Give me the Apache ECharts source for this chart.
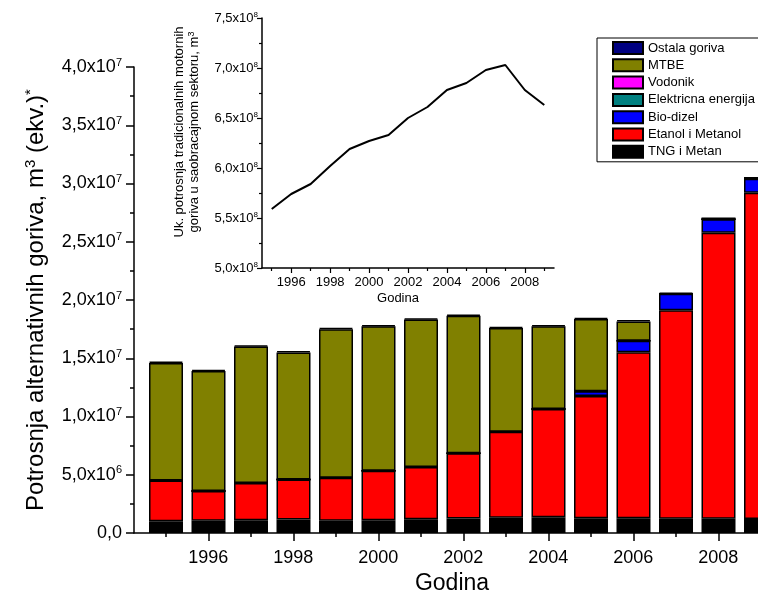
<!DOCTYPE html>
<html>
<head>
<meta charset="utf-8">
<script src="https://cdn.jsdelivr.net/npm/echarts@6/dist/echarts.min.js"></script>
<style>
  html, body { margin: 0; padding: 0; background: #fff; }
  #main { width: 758px; height: 595px; }
</style>
</head>
<body>
<div id="main"></div>
<script>
var chartDom = document.getElementById('main');
var myChart = echarts.init(chartDom);
var option;

// years on both charts
var years = [1995, 1996, 1997, 1998, 1999, 2000, 2001, 2002, 2003, 2004, 2005, 2006, 2007, 2008, 2009];
var labelYears = [1996, 1998, 2000, 2002, 2004, 2006, 2008];
var mainTicks = [1996, 1998, 2000, 2002, 2004, 2006, 2008];
var minorTicks = [1995, 1997, 1999, 2001, 2003, 2005, 2007, 2009];

// stacked bars, m3 (ekv.)
var tngMetan    = [1.0e6, 1.05e6, 1.1e6, 1.15e6, 1.05e6, 1.1e6, 1.17e6, 1.25e6, 1.3e6, 1.35e6, 1.26e6, 1.26e6, 1.23e6, 1.23e6, 1.2e6];
var etanol      = [3.5e6, 2.55e6, 3.2e6, 3.45e6, 3.7e6, 4.25e6, 4.5e6, 5.6e6, 7.4e6, 9.3e6, 10.5e6, 14.25e6, 17.9e6, 24.55e6, 28.0e6];
var bioDizel    = [0, 0, 0, 0, 0, 0, 0, 0, 0, 0, 0.4e6, 1.0e6, 1.4e6, 1.15e6, 1.2e6];
var elektricna  = [0, 0, 0, 0, 0, 0, 0, 0, 0, 0, 0, 0, 0, 0, 0];
var vodonik     = [0, 0, 0, 0, 0, 0, 0, 0, 0, 0, 0, 0, 0, 0, 0];
var mtbe        = [10.1e6, 10.3e6, 11.7e6, 10.9e6, 12.75e6, 12.4e6, 12.65e6, 11.8e6, 8.9e6, 7.1e6, 6.2e6, 1.65e6, 0, 0, 0];
var ostala      = [0.1e6, 0.1e6, 0.1e6, 0.1e6, 0.1e6, 0.1e6, 0.1e6, 0.1e6, 0.1e6, 0.1e6, 0.1e6, 0.1e6, 0.1e6, 0.15e6, 0.15e6];

// inset: total traditional fuel use
var tradicionalna = [5.59e8, 5.74e8, 5.84e8, 6.02e8, 6.19e8, 6.27e8, 6.33e8, 6.5e8, 6.61e8, 6.78e8, 6.85e8, 6.98e8, 7.03e8, 6.78e8, 6.63e8];

var FONT = 'Liberation Sans, Arial, sans-serif';

function pairs(vals) {
    return years.map(function (y, i) { return [y, vals[i]]; });
}

function sciLabel(v) {
    if (v === 0) return '{a|0,0}';
    var e = Math.floor(Math.log10(v) + 1e-9);
    var m = (v / Math.pow(10, e)).toFixed(1).replace('.', ',');
    return '{a|' + m + 'x10}{s|' + e + '}';
}

// bars live in their own hidden category grid so stacking works,
// the visible axes sit in grid 0
function barSeries(name, color, vals) {
    return {
        name: name,
        type: 'bar',
        stack: 'total',
        xAxisIndex: 4,
        yAxisIndex: 2,
        barWidth: 34,
        itemStyle: { color: color, borderColor: '#000', borderWidth: 1.5 },
        emphasis: { disabled: true },
        data: vals
    };
}

var tickStyle = { color: '#000', width: 1.5 };

option = {
    animation: false,
    textStyle: { fontFamily: FONT, color: '#000' },
    grid: [
        { left: 134, top: 67, width: 648, height: 466, outerBoundsMode: 'none' },
        { left: 262, top: 18, width: 292, height: 250, outerBoundsMode: 'none' },
        { left: 144.75, top: 67, width: 637.5, height: 466, outerBoundsMode: 'none' }
    ],
    legend: {
        orient: 'vertical',
        left: 597,
        top: 38,
        padding: [3, 10, 3, 15],
        itemWidth: 30,
        itemHeight: 12,
        itemGap: 3.3,
        icon: 'rect',
        borderColor: '#000',
        borderWidth: 1,
        backgroundColor: '#fff',
        textStyle: { fontSize: 13, color: '#000', fontFamily: FONT },
        data: ['Ostala goriva', 'MTBE', 'Vodonik', 'Elektricna energija', 'Bio-dizel', 'Etanol i Metanol', 'TNG i Metan']
    },
    xAxis: [
        {
            type: 'value', gridIndex: 0, position: 'bottom', min: 1994.25, max: 2009.5,
            name: 'Godina', nameLocation: 'middle', nameGap: 36,
            nameTextStyle: { fontSize: 23, color: '#000', padding: [0, 12, 0, 0] },
            axisLine: { show: true, lineStyle: tickStyle },
            axisTick: { show: true, customValues: mainTicks, length: 8, lineStyle: tickStyle },
            axisLabel: { customValues: labelYears, fontSize: 18, color: '#000', margin: 16,
                formatter: function (v) { return String(v); } },
            splitLine: { show: false }
        },
        {
            type: 'value', gridIndex: 0, position: 'bottom', min: 1994.25, max: 2009.5,
            axisLine: { show: false },
            axisTick: { show: true, customValues: minorTicks, length: 4, lineStyle: tickStyle },
            axisLabel: { show: false },
            splitLine: { show: false }
        },
        {
            type: 'value', gridIndex: 1, position: 'bottom', min: 1994.5, max: 2009.5,
            name: 'Godina', nameLocation: 'middle', nameGap: 24,
            nameTextStyle: { fontSize: 13, color: '#000', padding: [0, 20, 0, 0] },
            axisLine: { show: true, lineStyle: tickStyle },
            axisTick: { show: true, customValues: mainTicks, length: 5, lineStyle: { color: '#000', width: 1.2 } },
            axisLabel: { customValues: labelYears, fontSize: 13, color: '#000', margin: 8,
                formatter: function (v) { return String(v); } },
            splitLine: { show: false }
        },
        {
            type: 'value', gridIndex: 1, position: 'bottom', min: 1994.5, max: 2009.5,
            axisLine: { show: false },
            axisTick: { show: true, customValues: minorTicks, length: 3, lineStyle: { color: '#000', width: 1.2 } },
            axisLabel: { show: false },
            splitLine: { show: false }
        },
        {
            type: 'category', gridIndex: 2, position: 'bottom', data: years, show: false
        }
    ],
    yAxis: [
        {
            type: 'value', gridIndex: 0, min: 0, max: 4e7, interval: 5e6,
            name: 'Potrosnja alternativnih goriva, m{s|3} (ekv.){s|*}',
            nameLocation: 'middle', nameRotate: 90, nameGap: 84,
            nameTextStyle: {
                fontSize: 24, color: '#000',
                rich: { s: { fontSize: 15, verticalAlign: 'top', padding: [0, 0, 12, 0], color: '#000' } }
            },
            axisLine: { show: true, lineStyle: tickStyle },
            axisTick: { show: true, length: 8, lineStyle: tickStyle },
            minorTick: { show: true, splitNumber: 2, length: 4, lineStyle: tickStyle },
            axisLabel: {
                formatter: sciLabel, margin: 12,
                rich: {
                    a: { fontSize: 18, color: '#000' },
                    s: { fontSize: 11, color: '#000', verticalAlign: 'top', padding: [0, 0, 9, 0] }
                }
            },
            splitLine: { show: false },
            minorSplitLine: { show: false }
        },
        {
            type: 'value', gridIndex: 1, min: 5e8, max: 7.5e8, interval: 5e7,
            name: 'Uk. potrosnja tradicionalnih motornih\ngoriva u saobracajnom sektoru, m{s|3}',
            nameLocation: 'middle', nameRotate: 90, nameGap: 60,
            nameTextStyle: {
                fontSize: 13, color: '#000', lineHeight: 15, padding: [0, 0, 0, 22],
                rich: { s: { fontSize: 9, verticalAlign: 'top', padding: [0, 0, 6, 0], color: '#000' } }
            },
            axisLine: { show: true, lineStyle: tickStyle },
            axisTick: { show: true, length: 5, lineStyle: { color: '#000', width: 1.2 } },
            minorTick: { show: true, splitNumber: 2, length: 3, lineStyle: { color: '#000', width: 1.2 } },
            axisLabel: {
                formatter: sciLabel, margin: 4,
                rich: {
                    a: { fontSize: 13, color: '#000' },
                    s: { fontSize: 8, color: '#000', verticalAlign: 'top', padding: [0, 0, 6, 0] }
                }
            },
            splitLine: { show: false },
            minorSplitLine: { show: false }
        },
        {
            type: 'value', gridIndex: 2, min: 0, max: 4e7, show: false
        }
    ],
    series: [
        barSeries('TNG i Metan', '#000000', tngMetan),
        barSeries('Etanol i Metanol', '#ff0000', etanol),
        barSeries('Bio-dizel', '#0000ff', bioDizel),
        barSeries('Elektricna energija', '#008080', elektricna),
        barSeries('Vodonik', '#ff00ff', vodonik),
        barSeries('MTBE', '#808000', mtbe),
        barSeries('Ostala goriva', '#000080', ostala),
        {
            name: 'Uk. potrosnja',
            type: 'line',
            xAxisIndex: 2,
            yAxisIndex: 1,
            symbol: 'none',
            lineStyle: { color: '#000', width: 2 },
            data: pairs(tradicionalna)
        }
    ]
};

option && myChart.setOption(option);
</script>
</body>
</html>
